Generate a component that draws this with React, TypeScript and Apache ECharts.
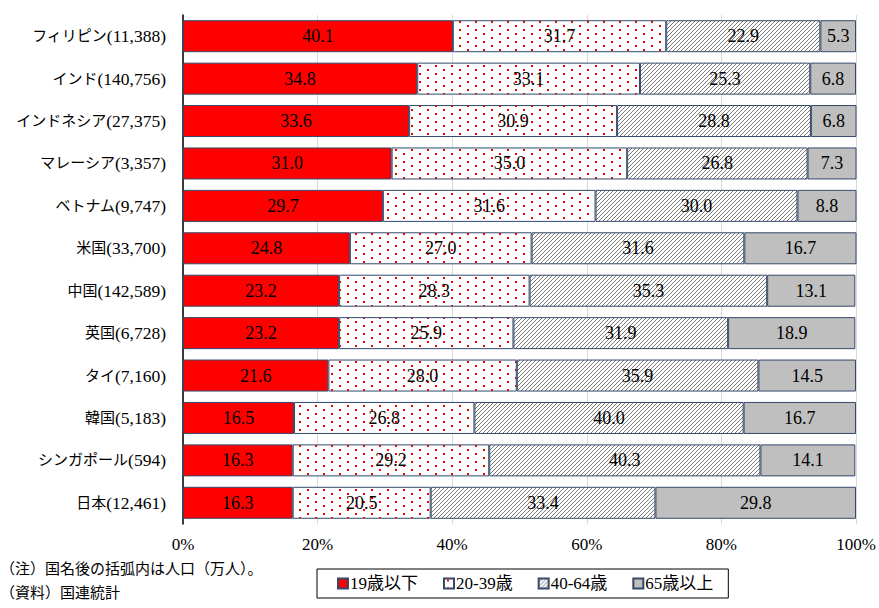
import React, { useEffect, useRef } from "react";
import * as echarts from "echarts";

const categories = [
  "フィリピン(11,388)",
  "インド(140,756)",
  "インドネシア(27,375)",
  "マレーシア(3,357)",
  "ベトナム(9,747)",
  "米国(33,700)",
  "中国(142,589)",
  "英国(6,728)",
  "タイ(7,160)",
  "韓国(5,183)",
  "シンガポール(594)",
  "日本(12,461)",
];
const seriesNames = ["19歳以下", "20-39歳", "40-64歳", "65歳以上"];
const age0to19 = [40.1, 34.8, 33.6, 31.0, 29.7, 24.8, 23.2, 23.2, 21.6, 16.5, 16.3, 16.3];
const age20to39 = [31.7, 33.1, 30.9, 35.0, 31.6, 27.0, 28.3, 25.9, 28.0, 26.8, 29.2, 20.5];
const age40to64 = [22.9, 25.3, 28.8, 26.8, 30.0, 31.6, 35.3, 31.9, 35.9, 40.0, 40.3, 33.4];
const age65plus = [5.3, 6.8, 6.8, 7.3, 8.8, 16.7, 13.1, 18.9, 14.5, 16.7, 14.1, 29.8];
const xTicks = [0, 20, 40, 60, 80, 100];

const FONT = "'Liberation Serif', 'Noto Sans CJK JP', serif";

function dotPattern() {
  const c = document.createElement("canvas");
  c.width = 16;
  c.height = 8;
  const ctx = c.getContext("2d")!;
  ctx.fillStyle = "#ffffff";
  ctx.fillRect(0, 0, 16, 8);
  ctx.fillStyle = "#ff0000";
  ctx.fillRect(3, 1, 2, 2);
  ctx.fillRect(11, 5, 2, 2);
  return c;
}

function hatchPattern() {
  const c = document.createElement("canvas");
  c.width = 4;
  c.height = 4;
  const ctx = c.getContext("2d")!;
  ctx.fillStyle = "#ffffff";
  ctx.fillRect(0, 0, 4, 4);
  ctx.fillStyle = "#7a7a7a";
  for (let i = 0; i < 4; i++) {
    ctx.fillRect(i, 3 - i, 1, 1);
  }
  return c;
}

export default function App() {
  const ref = useRef<HTMLDivElement>(null);
  useEffect(() => {
    if (!ref.current) return;
    const chart = echarts.init(ref.current, undefined, { renderer: "svg" });
    const fills: any[] = [
      "#ff0000",
      { image: dotPattern(), repeat: "repeat" },
      { image: hatchPattern(), repeat: "repeat" },
      "#bfbfbf",
    ];
    const datasets = [age0to19, age20to39, age40to64, age65plus];
    chart.setOption({
      animation: false,
      textStyle: { fontFamily: FONT },
      grid: { left: 183, right: 23, top: 15, bottom: 84, containLabel: false },
      xAxis: {
        type: "value",
        min: 0,
        max: 100,
        interval: 20,
        axisLine: { show: false },
        axisTick: { show: false },
        splitLine: { show: true, lineStyle: { color: "#d9d9d9", width: 1 } },
        axisLabel: {
          formatter: (v: number) => (xTicks.includes(v) ? v + "%" : ""),
          color: "#000",
          fontSize: 17,
          fontFamily: FONT,
          margin: 12,
        },
      },
      yAxis: {
        type: "category",
        data: categories,
        inverse: true,
        axisLine: { show: true, lineStyle: { color: "#000", width: 1.5 } },
        axisTick: { show: false },
        axisLabel: {
          color: "#000",
          fontSize: 16,
          fontFamily: FONT,
          margin: 17,
          formatter: (v: string) => {
            const k = v.indexOf("(");
            return "{j|" + v.slice(0, k) + "}{n|" + v.slice(k) + "}";
          },
          rich: {
            j: { fontSize: 15, fontFamily: FONT, color: "#000" },
            n: { fontSize: 17.5, fontFamily: FONT, color: "#000" },
          },
        },
      },
      legend: {
        data: seriesNames,
        left: 317,
        top: 569,
        padding: [6, 15, 6, 20],
        itemGap: 25,
        itemWidth: 10,
        itemHeight: 10,
        icon: "rect",
        borderColor: "#000",
        borderWidth: 1,
        textStyle: { color: "#000", fontSize: 17, fontFamily: FONT, padding: [0, 0, 0, -3] },
      },
      graphic: [
        {
          type: "text",
          left: 0,
          top: 561,
          style: { text: "（注）国名後の括弧内は人口（万人）。", fontSize: 15, fontFamily: FONT, fill: "#000" },
        },
        {
          type: "text",
          left: 0,
          top: 585,
          style: { text: "（資料）国連統計", fontSize: 15, fontFamily: FONT, fill: "#000" },
        },
      ],
      series: seriesNames.map((name, i) => ({
        name,
        type: "bar",
        stack: "total",
        barWidth: 32,
        data: datasets[i],
        itemStyle: { color: fills[i], borderColor: "#34496a", borderWidth: 1 },
        label: {
          show: true,
          position: "inside",
          color: "#000",
          fontSize: 18,
          fontFamily: FONT,
          formatter: (p: any) => Number(p.value).toFixed(1),
        },
      })),
    });
    return () => chart.dispose();
  }, []);
  return <div ref={ref} style={{ width: 879, height: 608, position: "absolute", left: 0, top: 0 }} />;
}
